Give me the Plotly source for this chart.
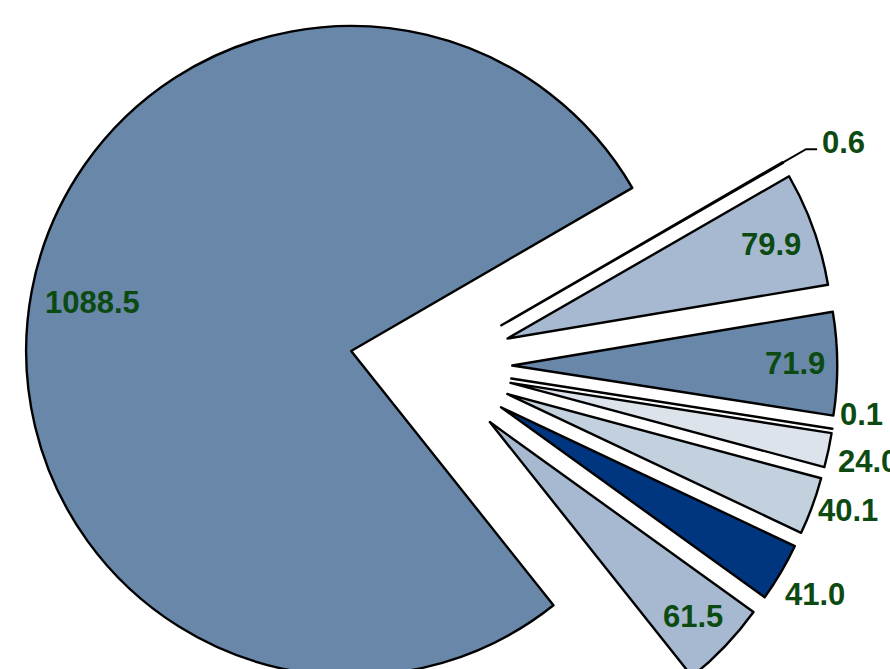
import numpy as np
import plotly.graph_objects as go

# ---- data ----
values = [1088.5, 0.6, 79.9, 71.9, 0.1, 24.0, 40.1, 41.0, 61.5]
names = ["S1", "S2", "S3", "S4", "S5", "S6", "S7", "S8", "S9"]
colors = ["#6887A9", "#DCE3EB", "#A6B9D0", "#6887A9", "#DCE3EB",
          "#DCE3EB", "#C3D1DF", "#003580", "#A6B9D0"]

# ---- label style (placement rules per slice) ----
label_mode = ["inside", "leader", "inside", "inside", "outside",
              "outside", "outside", "outside", "inside"]
label_frac = [0.81, 0, 0.86, 0.87, 0, 0, 0, 0, 0.865]
label_nudge = [(0, 0), (0, 0), (0, 0), (0, 0), (-10, -20),
               (0, 3), (-2, -9), (0, 2), (0, 0)]

# ---- geometry / layout constants ----
W, H = 890, 760
CX, CY = 431, 366          # pie centre in pixels
R = 325                    # radius in pixels
EXPLODE = 0.25             # every slice pulled out by this fraction of R
ROTATION = 141.5
TEXT_COLOR = "#0C4A12"
FONT = dict(family="Liberation Sans", size=31, color=TEXT_COLOR, weight="bold")

vals = np.array(values)
total = vals.sum()
cum = np.concatenate([[0], np.cumsum(vals)[:-1]])
mid = np.radians(ROTATION + (cum + vals / 2) / total * 360.0)
ux, uy = np.sin(mid), -np.cos(mid)            # screen direction of each slice
apex_x = CX + EXPLODE * R * ux
apex_y = CY + EXPLODE * R * uy


def px(x):
    return x / W


def py(y):
    return 1 - y / H


fig = go.Figure()
n = len(values)
for i in range(n):
    cols = ["rgba(0,0,0,0)"] * n
    cols[i] = colors[i]
    widths = [0] * n
    widths[i] = 2.4
    fig.add_trace(go.Pie(
        values=values,
        labels=names,
        sort=False,
        direction="clockwise",
        rotation=ROTATION,
        marker=dict(colors=cols, line=dict(color="black", width=widths)),
        textinfo="none",
        hoverinfo="none",
        showlegend=False,
        domain=dict(x=[px(apex_x[i] - R), px(apex_x[i] + R)],
                    y=[py(apex_y[i] + R), py(apex_y[i] - R)]),
    ))

annotations = []
shapes = []
for i in range(n):
    txt = f"{values[i]:.1f}"
    if label_mode[i] == "inside":
        lx = apex_x[i] + label_frac[i] * R * ux[i]
        ly = apex_y[i] + label_frac[i] * R * uy[i]
        annotations.append(dict(x=px(lx), y=py(ly), text=txt, showarrow=False,
                                xanchor="center", yanchor="middle", font=FONT))
    elif label_mode[i] == "outside":
        ax_ = apex_x[i] + (R + 40) * ux[i] + label_nudge[i][0]
        ay_ = apex_y[i] + (R + 40) * uy[i] + label_nudge[i][1]
        annotations.append(dict(x=px(ax_), y=py(ay_), text=txt, showarrow=False,
                                xanchor="center", yanchor="middle", font=FONT))
    else:  # leader line
        x0 = apex_x[i] + R * ux[i]
        y0 = apex_y[i] + R * uy[i]
        x1 = x0 + 27 * ux[i]
        y1 = y0 + 27 * uy[i]
        x2 = x1 + 11
        shapes.append(dict(type="path", xref="paper", yref="paper",
                           path=f"M {px(x0)},{py(y0)} L {px(x1)},{py(y1)} L {px(x2)},{py(y1)}",
                           line=dict(color="black", width=2)))
        annotations.append(dict(x=px(x2 + 3), y=py(y1 - 7), text=txt, showarrow=False,
                                xanchor="left", yanchor="middle", font=FONT))

fig.update_layout(
    width=W, height=H,
    margin=dict(l=0, r=0, t=0, b=0),
    paper_bgcolor="white",
    plot_bgcolor="white",
    annotations=annotations,
    shapes=shapes,
)

fig.write_html("out.html")
